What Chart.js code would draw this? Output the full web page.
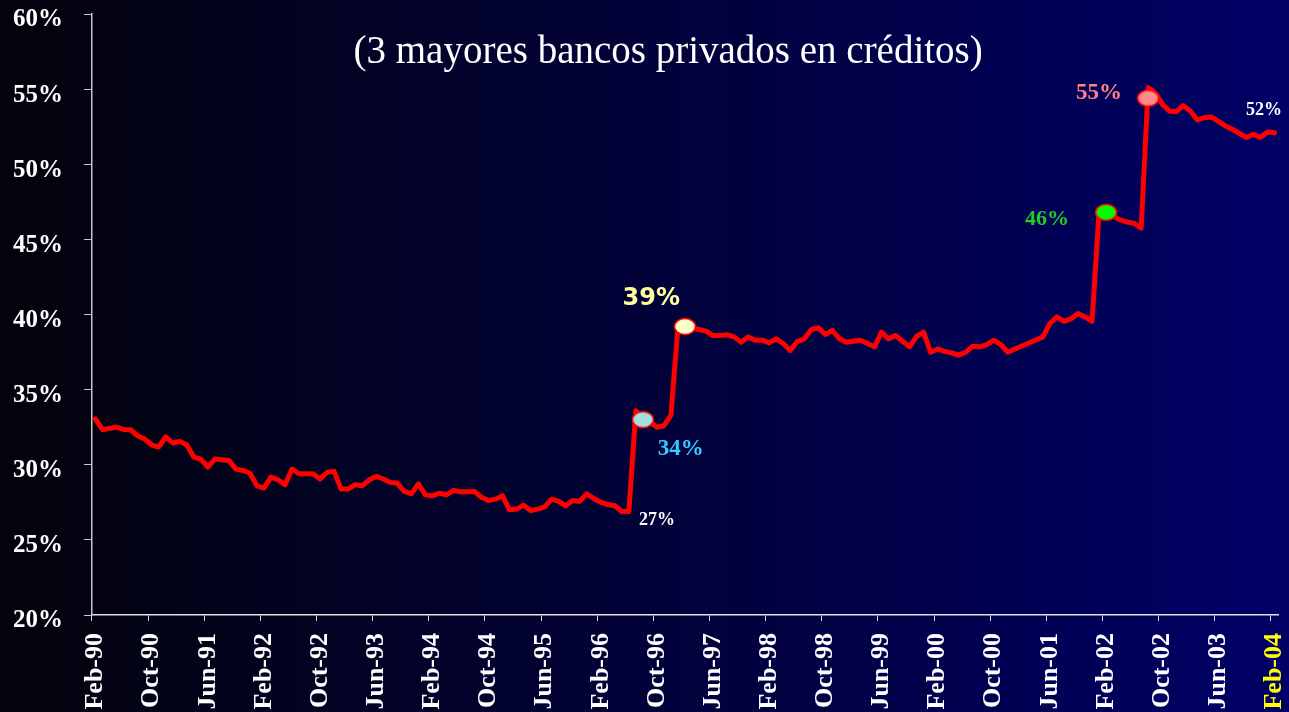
<!DOCTYPE html>
<html>
<head>
<meta charset="utf-8">
<script src="https://cdn.jsdelivr.net/npm/chart.js@4.4.1/dist/chart.umd.min.js"></script>
<style>
  html, body { margin: 0; padding: 0; background: #000; }
</style>
</head>
<body>
<canvas id="share-chart" width="1289" height="712"></canvas>
<script>
  // monthly share of the 3 largest private banks in credits, Feb-90 .. Feb-04
  var share1990_93 = [33.05, 32.33, 32.42, 32.51, 32.35, 32.33, 31.93, 31.71, 31.33, 31.18, 31.85,
                      31.45, 31.55, 31.33, 30.51, 30.38, 29.85, 30.38, 30.33, 30.29, 29.71, 29.62, 29.45,
                      28.6, 28.45, 29.18, 29.0, 28.67, 29.71, 29.4, 29.4, 29.4, 29.05, 29.5, 29.56,
                      28.38, 28.38, 28.67, 28.6, 29.0, 29.22, 29.05, 28.82, 28.78, 28.22, 28.07, 28.73];
  var share1994_97 = [28.0, 27.93, 28.11, 28.0, 28.29, 28.2, 28.2, 28.22, 27.84, 27.62, 27.71, 27.93,
                      27.0, 27.05, 27.31, 26.95, 27.05, 27.2, 27.71, 27.56, 27.27, 27.62, 27.56, 28.07,
                      27.75, 27.5, 27.35, 27.27, 26.89, 26.89, 33.6, 33.0, 32.85, 32.5, 32.6, 33.3,
                      39.2, 39.2, 39.1, 39.0, 38.89, 38.6, 38.6, 38.65, 38.51, 38.15, 38.51, 38.29];
  var share1998_01 = [38.29, 38.11, 38.38, 38.07, 37.6, 38.2, 38.38, 39.0, 39.11, 38.67, 38.95, 38.38,
                      38.15, 38.22, 38.28, 38.07, 37.85, 38.82, 38.38, 38.6, 38.22, 37.85, 38.55, 38.82,
                      37.49, 37.71, 37.55, 37.44, 37.3, 37.49, 37.89, 37.85, 38.0, 38.29, 38.0, 37.49,
                      37.7, 37.9, 38.1, 38.3, 38.51, 39.4, 39.84, 39.55, 39.71, 40.07, 39.84, 39.55];
  var share2002_04 = [46.8, 46.8, 46.55, 46.3, 46.15, 46.07, 45.75, 55.1, 54.75, 54.0, 53.55, 53.5,
                      53.9, 53.55, 52.95, 53.1, 53.15, 52.85, 52.55, 52.33, 52.05, 51.78, 52.0, 51.78,
                      52.15, 52.1];
  var share = share1990_93.concat(share1994_97, share1998_01, share2002_04);

  var monthNames = ['Jan', 'Feb', 'Mar', 'Apr', 'May', 'Jun', 'Jul', 'Aug', 'Sep', 'Oct', 'Nov', 'Dec'];
  var months = [];
  for (var i = 0; i < share.length; i++) {
      var m = (1 + i) % 12;
      var yy = (90 + Math.floor((1 + i) / 12)) % 100;
      months.push(monthNames[m] + '-' + (yy < 10 ? '0' + yy : '' + yy));
  }
  var tickEvery = 8;

  // highlighted points
  var markerIdx = [78, 84, 144, 150];
  var markerVals = [33.0, 39.2, 46.8, 54.4];
  var markerFills = ['#a6dcdc', '#ffffcc', '#00ff00', '#ff8c8c'];

  // text notes, placed in data units
  var noteText = ['39%', '34%', '27%', '46%', '55%', '52%'];
  var noteIdx = [79.2, 83.4, 80.0, 135.6, 143.0, 166.5];
  var noteVal = [41.07, 31.03, 26.33, 46.35, 54.75, 53.58];
  var noteColor = ['#ffff99', '#33ccff', '#ffffff', '#22cc22', '#ff8080', '#ffffff'];
  var noteFont = ['bold 24px "DejaVu Sans"', 'bold 23px "Liberation Serif"', 'bold 18px "Liberation Serif"',
                  'bold 22px "Liberation Serif"', 'bold 23px "Liberation Serif"', 'bold 18px "Liberation Serif"'];

  var title = '(3 mayores bancos privados en créditos)';

  function ellipseImage(fill) {
      var c = document.createElement('canvas');
      c.width = 24;
      c.height = 19;
      var g = c.getContext('2d');
      g.beginPath();
      g.ellipse(12, 9.5, 10.5, 8, 0, 0, Math.PI * 2);
      g.fillStyle = fill;
      g.fill();
      g.lineWidth = 1.5;
      g.strokeStyle = '#ff0000';
      g.stroke();
      return c;
  }

  var markerData = [];
  var markerImgs = [];
  for (var i = 0; i < share.length; i++) {
      markerData.push(null);
      markerImgs.push(false);
  }
  for (var k = 0; k < markerIdx.length; k++) {
      markerData[markerIdx[k]] = markerVals[k];
      markerImgs[markerIdx[k]] = ellipseImage(markerFills[k]);
  }

  var backgroundPlugin = {
      id: 'bg',
      beforeDraw: function(chart) {
          var ctx = chart.ctx;
          var grad = ctx.createLinearGradient(0, 0, chart.width, 0);
          grad.addColorStop(0, '#03030c');
          grad.addColorStop(1, '#000066');
          ctx.save();
          ctx.fillStyle = grad;
          ctx.fillRect(0, 0, chart.width, chart.height);
          ctx.restore();
      }
  };

  var notesPlugin = {
      id: 'notes',
      afterDatasetsDraw: function(chart) {
          var ctx = chart.ctx;
          var xs = chart.scales.x;
          var ys = chart.scales.y;
          ctx.save();
          ctx.textAlign = 'center';
          ctx.textBaseline = 'middle';
          for (var k = 0; k < noteText.length; k++) {
              ctx.font = noteFont[k];
              ctx.fillStyle = noteColor[k];
              ctx.fillText(noteText[k], xs.getPixelForValue(noteIdx[k]), ys.getPixelForValue(noteVal[k]));
          }
          ctx.font = '39px "Liberation Serif"';
          ctx.fillStyle = '#ffffff';
          ctx.fillText(title, xs.getPixelForValue(81.6), ys.getPixelForValue(57.4));
          ctx.restore();
      }
  };

  function noScalePadding(scale) {
      scale.paddingTop = 0;
      scale.paddingBottom = 0;
      scale.paddingLeft = 0;
      scale.paddingRight = 0;
  }

  var config = {
      type: 'line',
      data: {
          labels: months,
          datasets: [{
              data: markerData,
              showLine: false,
              order: 0,
              pointStyle: function(ctx) { return markerImgs[ctx.dataIndex]; },
              pointRadius: 10,
              pointHoverRadius: 10
          }, {
              data: share,
              order: 1,
              borderColor: '#ff0000',
              borderWidth: 5,
              borderJoinStyle: 'round',
              borderCapStyle: 'round',
              pointRadius: 0,
              tension: 0,
              fill: false
          }]
      },
      options: {
          responsive: false,
          animation: false,
          layout: { padding: { top: 14, right: 10, left: 0, bottom: 0 } },
          plugins: {
              legend: { display: false },
              tooltip: { enabled: false }
          },
          scales: {
              x: {
                  offset: true,
                  grid: {
                      offset: true,
                      drawOnChartArea: false,
                      tickLength: 6,
                      color: function(ctx) { return ctx.index % tickEvery === 0 ? '#d8d8d8' : 'rgba(0,0,0,0)'; }
                  },
                  border: { color: '#e0e0e0', width: 1.5 },
                  ticks: {
                      autoSkip: false,
                      minRotation: 90,
                      maxRotation: 90,
                      padding: 12,
                      font: { family: '"Liberation Serif"', size: 26, weight: 'bold' },
                      color: function(ctx) { return ctx.index === share.length - 1 ? '#ffff00' : '#ffffff'; },
                      callback: function(value, index) {
                          return index % tickEvery === 0 ? this.getLabelForValue(value) : '';
                      }
                  },
                  afterFit: function(scale) {
                      scale.height = 97;
                      noScalePadding(scale);
                  }
              },
              y: {
                  min: 20,
                  max: 60,
                  grid: { drawOnChartArea: false, tickLength: 8, color: '#c8c8c8' },
                  border: { color: '#c8c8c8', width: 1.5 },
                  ticks: {
                      stepSize: 5,
                      padding: 21,
                      labelOffset: 6,
                      color: '#ffffff',
                      font: { family: '"Liberation Serif"', size: 25, weight: 'bold' },
                      callback: function(v) { return v + '%'; }
                  },
                  afterFit: function(scale) {
                      scale.width = 92;
                      noScalePadding(scale);
                  }
              }
          }
      },
      plugins: [backgroundPlugin, notesPlugin]
  };

  window.onload = function() {
      var ctx = document.getElementById('share-chart').getContext('2d');
      window.shareChart = new Chart(ctx, config);
  };
</script>
</body>
</html>
